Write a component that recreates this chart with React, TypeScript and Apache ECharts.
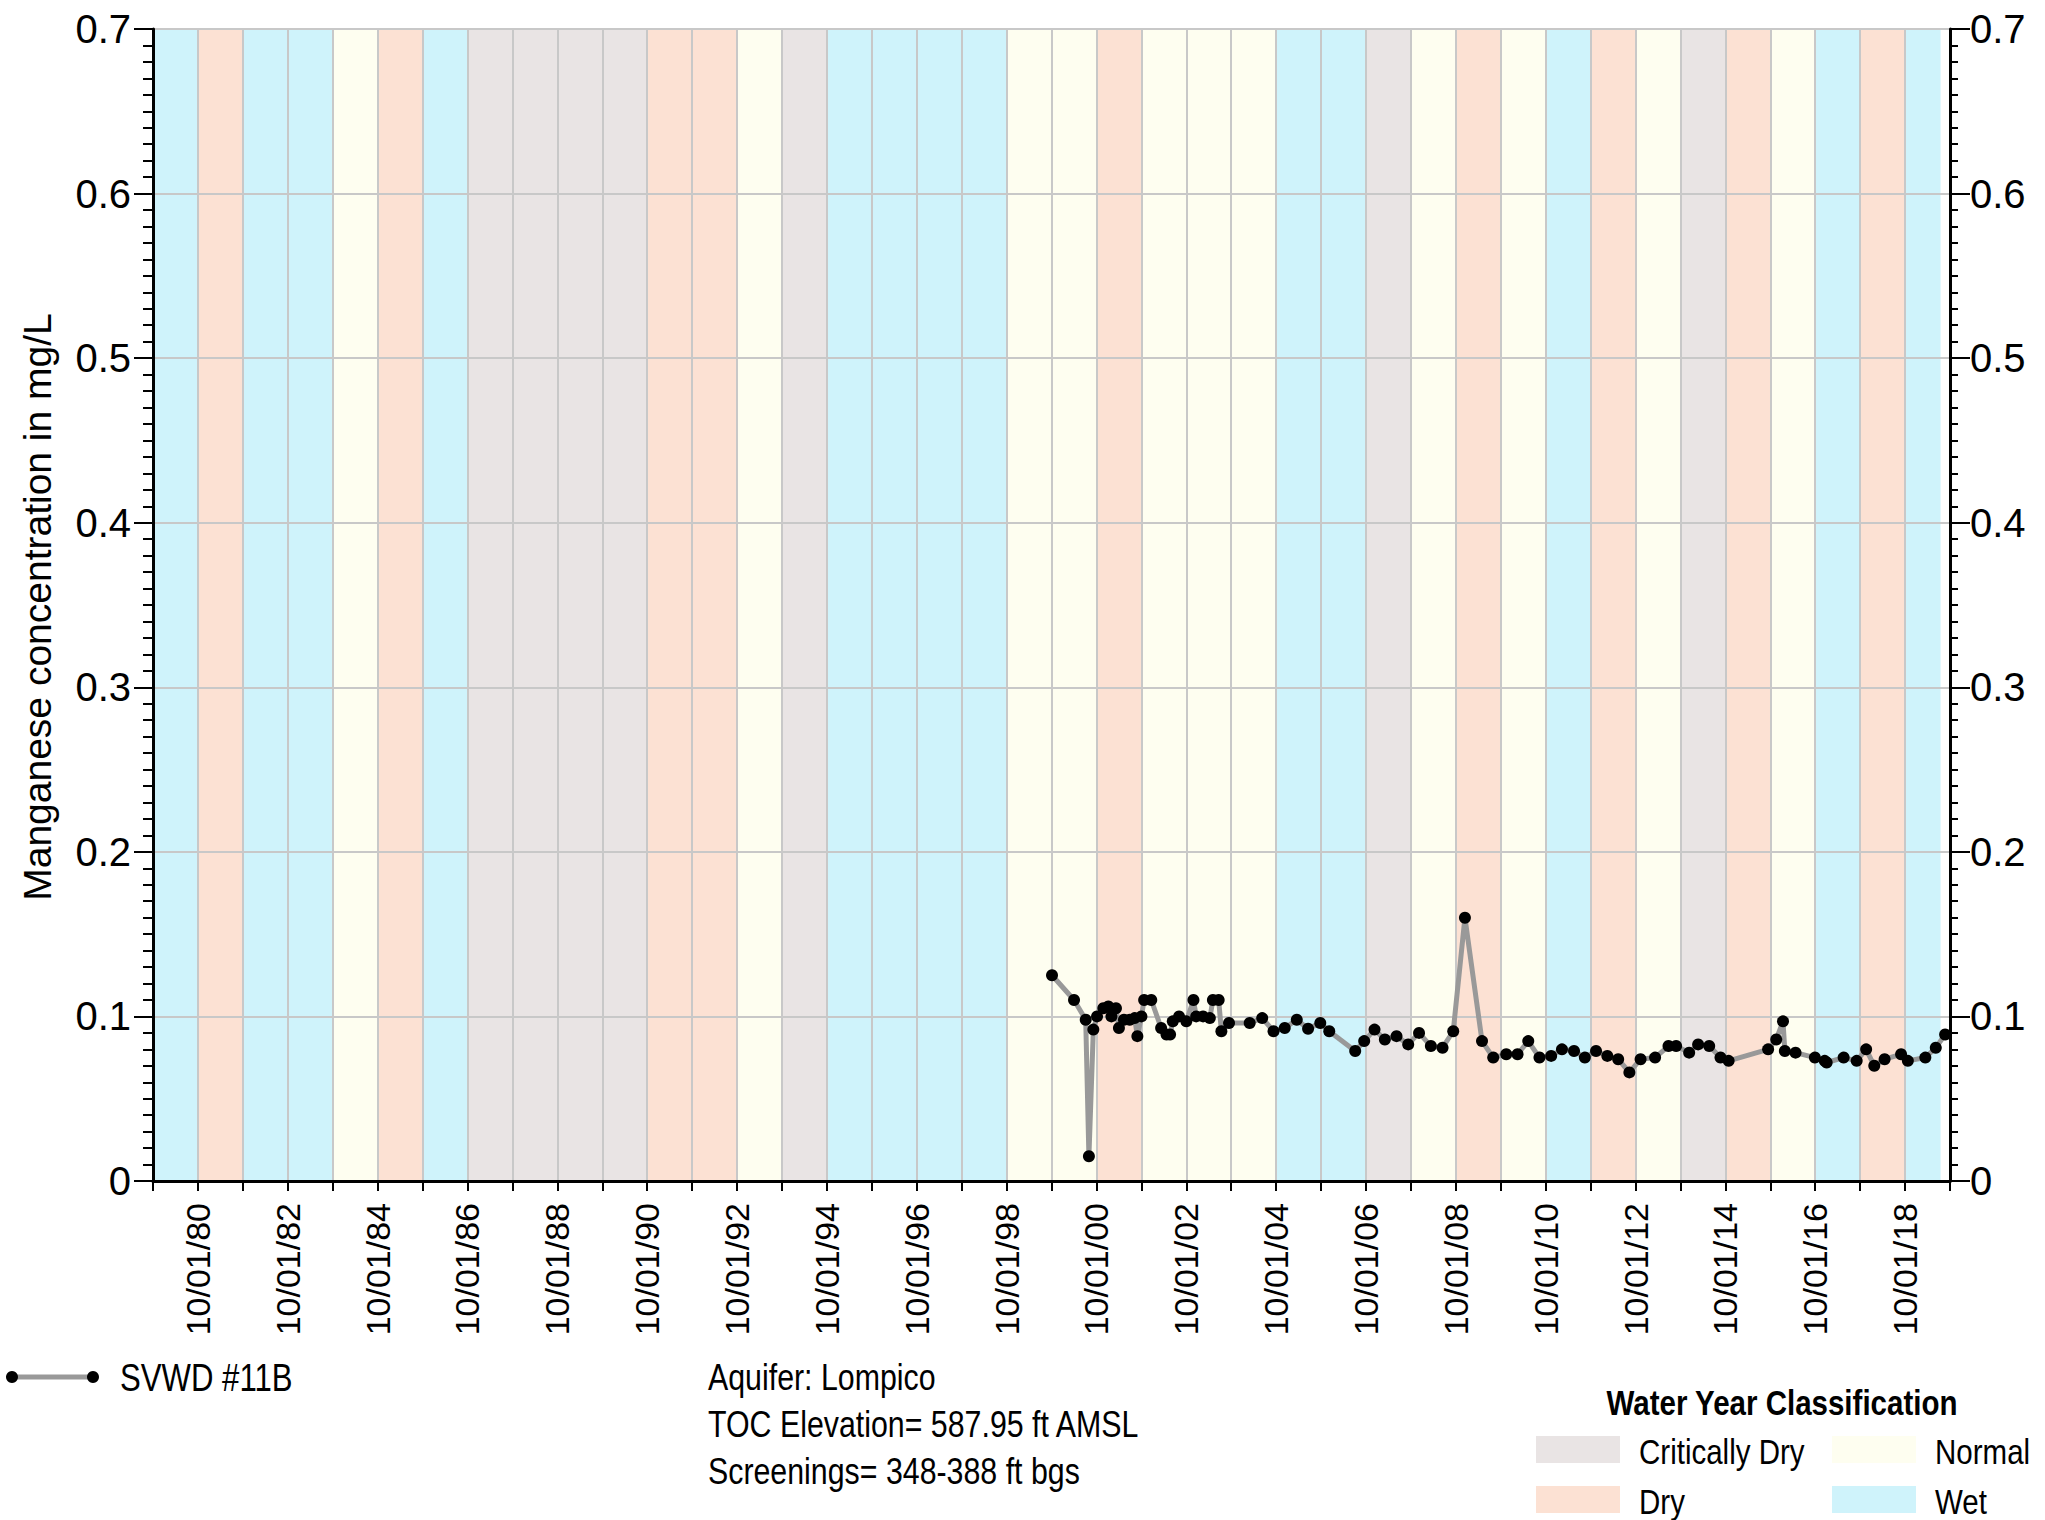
import React, { useEffect, useRef } from "react";
import * as echarts from "echarts";

// ---- Data ----
const sampleDates: string[] = [
  "1999-10-05", "2000-04-01", "2000-07-05", "2000-07-31", "2000-09-05", "2000-10-05", "2000-11-25",
  "2001-01-05", "2001-01-30", "2001-03-08", "2001-04-01", "2001-05-12", "2001-06-28", "2001-08-07",
  "2001-08-29", "2001-10-01", "2001-10-23", "2001-12-20", "2002-03-10", "2002-04-23", "2002-05-22",
  "2002-06-13", "2002-08-03", "2002-10-01", "2002-11-28", "2002-12-20", "2003-02-14", "2003-04-10",
  "2003-05-05", "2003-06-21", "2003-07-13", "2003-09-13", "2004-02-28", "2004-06-09", "2004-09-09",
  "2004-12-09", "2005-03-17", "2005-06-17", "2005-09-24", "2005-12-06", "2006-07-05", "2006-09-16",
  "2006-12-09", "2007-03-03", "2007-06-06", "2007-09-09", "2007-12-06", "2008-03-11", "2008-06-14",
  "2008-09-09", "2008-12-13", "2009-05-01", "2009-07-31", "2009-11-14", "2010-02-14", "2010-05-12",
  "2010-08-11", "2010-11-14", "2011-02-10", "2011-05-19", "2011-08-15", "2011-11-14", "2012-02-14",
  "2012-05-12", "2012-08-11", "2012-11-10", "2013-03-08", "2013-06-25", "2013-08-26", "2013-12-10",
  "2014-02-21", "2014-05-22", "2014-08-22", "2014-10-27", "2015-09-13", "2015-11-18", "2016-01-12",
  "2016-01-27", "2016-04-23", "2016-09-27", "2016-12-16", "2017-01-01", "2017-05-19", "2017-09-02",
  "2017-11-18", "2018-01-23", "2018-04-17", "2018-08-29", "2018-10-23", "2019-03-14", "2019-06-07",
  "2019-08-22",
];
const manganese: number[] = [
  0.125, 0.110, 0.098, 0.015, 0.092, 0.100, 0.105,
  0.106, 0.100, 0.105, 0.093, 0.098, 0.098, 0.099,
  0.088, 0.100, 0.110, 0.110, 0.093, 0.089, 0.089,
  0.097, 0.100, 0.097, 0.110, 0.100, 0.100, 0.099,
  0.110, 0.110, 0.091, 0.096, 0.096, 0.099, 0.091,
  0.093, 0.098, 0.0925, 0.096, 0.091, 0.079, 0.085,
  0.092, 0.086, 0.088, 0.083, 0.090, 0.082, 0.081,
  0.091, 0.160, 0.085, 0.075, 0.077, 0.077, 0.085,
  0.075, 0.076, 0.080, 0.079, 0.075, 0.079, 0.076,
  0.074, 0.066, 0.074, 0.075, 0.082, 0.082, 0.078,
  0.083, 0.082, 0.075, 0.073, 0.080, 0.086, 0.097,
  0.079, 0.078, 0.075, 0.073, 0.072, 0.075, 0.073,
  0.080, 0.070, 0.074, 0.077, 0.073, 0.075, 0.081,
  0.089,
];

// Water years WY1980 .. WY2019 (each from Oct 1 of the previous year)
const firstWaterYear = 1980;
const waterYearClass: string[] = [
  "Wet", "Dry", "Wet", "Wet", "Normal", "Dry", "Wet", "Critically Dry", "Critically Dry", "Critically Dry",
  "Critically Dry", "Dry", "Dry", "Normal", "Critically Dry", "Wet", "Wet", "Wet", "Wet", "Normal",
  "Normal", "Dry", "Normal", "Normal", "Normal", "Wet", "Wet", "Critically Dry", "Normal", "Dry",
  "Normal", "Wet", "Dry", "Normal", "Critically Dry", "Dry", "Normal", "Wet", "Dry", "Wet",
];
const lastBandEnd = "2019-07-16";

const axisStartDate = "1979-10-01";
const axisYears = 40;
const yTicks: string[] = ["0", "0.1", "0.2", "0.3", "0.4", "0.5", "0.6", "0.7"];

const seriesName = "SVWD #11B";
const yTitle = "Manganese concentration in mg/L";
const infoLines: string[] = ["Aquifer: Lompico", "TOC Elevation= 587.95 ft AMSL", "Screenings= 348-388 ft bgs"];
const legendTitle = "Water Year Classification";
const classColors: Record<string, string> = {
  "Critically Dry": "#E9E4E4",
  Normal: "#FEFEF0",
  Dry: "#FCE1D3",
  Wet: "#CFF3FB",
};
const legendOrder: string[] = ["Critically Dry", "Normal", "Dry", "Wet"];

// ---- helpers ----
const DAY = 86400000;
const t0 = Date.parse(axisStartDate + "T00:00:00Z");
const toX = (d: string) => (Date.parse(d + "T00:00:00Z") - t0) / (365.2425 * DAY);

const SANS = "'Liberation Sans', Arial, sans-serif";
const NARROW_SCALE = 0.82;

export default function App() {
  const ref = useRef<HTMLDivElement>(null);

  useEffect(() => {
    document.body.style.margin = "0";
    if (!ref.current) return;
    const chart = echarts.init(ref.current, undefined, { renderer: "svg" });

    const points = sampleDates.map((d, i) => [toX(d), manganese[i]]);
    const bands = waterYearClass.map((c, i) => {
      const wy = firstWaterYear + i;
      const start = `${wy - 1}-10-01`;
      const end = i === waterYearClass.length - 1 ? lastBandEnd : `${wy}-10-01`;
      return [
        { xAxis: toX(start), itemStyle: { color: classColors[c] } },
        { xAxis: toX(end) },
      ];
    });

    const narrowText = (
      text: string,
      x: number,
      y: number,
      size: number,
      align: string = "left",
      weight: string = "normal"
    ) => ({
      type: "text",
      x,
      y,
      scaleX: NARROW_SCALE,
      style: {
        text,
        font: `${weight} ${size}px ${SANS}`,
        fill: "#000",
        textAlign: align,
        textVerticalAlign: "middle",
      },
    });

    const g: any[] = [];
    // series legend
    g.push({
      type: "line",
      shape: { x1: 12, y1: 1377, x2: 93, y2: 1377 },
      style: { stroke: "#999999", lineWidth: 5 },
    });
    g.push({ type: "circle", shape: { cx: 12, cy: 1377, r: 6 }, style: { fill: "#000" } });
    g.push({ type: "circle", shape: { cx: 93, cy: 1377, r: 6 }, style: { fill: "#000" } });
    g.push(narrowText(seriesName, 120, 1378, 38));
    infoLines.forEach((t, i) => g.push(narrowText(t, 708, 1377 + i * 47, 37)));
    // y axis title
    g.push({
      type: "text",
      x: 37,
      y: 607,
      rotation: Math.PI / 2,
      style: {
        text: yTitle,
        font: `39px ${SANS}`,
        fill: "#000",
        textAlign: "center",
        textVerticalAlign: "middle",
      },
    });
    // water year legend
    g.push(narrowText(legendTitle, 1782, 1402, 36, "center", "bold"));
    legendOrder.forEach((c, i) => {
      const col = i % 2;
      const row = Math.floor(i / 2);
      const sx = col === 0 ? 1536 : 1832;
      const sy = 1436 + row * 50;
      g.push({
        type: "rect",
        shape: { x: sx, y: sy, width: 84, height: 27 },
        style: { fill: classColors[c] },
      });
      g.push(narrowText(c, sx + 103, sy + 15, 36));
    });

    const yAxisBase = {
      type: "value",
      min: 0,
      max: 0.7,
      interval: 0.1,
      z: 3,
      axisLine: { show: true, lineStyle: { color: "#000", width: 3 } },
      axisTick: { show: true, length: 19, lineStyle: { color: "#000", width: 2 } },
      minorTick: { show: true, splitNumber: 10, length: 10, lineStyle: { color: "#000", width: 2 } },
      axisLabel: {
        fontSize: 40,
        fontFamily: SANS,
        color: "#000",
        formatter: (v: number) => yTicks[Math.round(v * 10)] ?? "",
      },
    };

    chart.setOption({
      animation: false,
      backgroundColor: "#fff",
      grid: { left: 153, right: 95, top: 29, bottom: 339, containLabel: false },
      xAxis: {
        type: "value",
        min: 0,
        max: axisYears,
        interval: 1,
        z: 3,
        axisLine: { show: true, onZero: false, lineStyle: { color: "#000", width: 3 } },
        axisTick: { show: true, length: 10, lineStyle: { color: "#000", width: 2 } },
        axisLabel: {
          rotate: 90,
          margin: 22,
          fontSize: 34,
          fontFamily: SANS,
          color: "#000",
          showMinLabel: true,
          showMaxLabel: true,
          formatter: (v: number) => {
            const k = Math.round(v);
            if (k % 2 !== 1) return "";
            const yy = String((1979 + k) % 100).padStart(2, "0");
            return `10/01/${yy}`;
          },
        },
        splitLine: { show: true, lineStyle: { color: "#c8c8c8", width: 2 } },
      },
      yAxis: [
        {
          ...yAxisBase,
          position: "left",
          axisLabel: { ...yAxisBase.axisLabel, margin: 22 },
          splitLine: { show: true, lineStyle: { color: "#c8c8c8", width: 2 } },
        },
        {
          ...yAxisBase,
          position: "right",
          axisTick: { show: true, length: 20, lineStyle: { color: "#000", width: 2 } },
          minorTick: { show: true, splitNumber: 10, length: 8, lineStyle: { color: "#000", width: 2 } },
          axisLabel: { ...yAxisBase.axisLabel, margin: 20 },
          splitLine: { show: false },
        },
      ],
      series: [
        {
          type: "line",
          name: "bands",
          data: [],
          z: 1,
          silent: true,
          markArea: { silent: true, z: 1, data: bands },
        },
        {
          type: "line",
          name: seriesName,
          data: points,
          z: 10,
          symbol: "circle",
          symbolSize: 12,
          showAllSymbol: true,
          itemStyle: { color: "#000" },
          lineStyle: { color: "#999999", width: 5 },
        },
      ],
      graphic: g,
    });

    return () => chart.dispose();
  }, []);

  return <div ref={ref} style={{ width: 2045, height: 1520 }} />;
}
